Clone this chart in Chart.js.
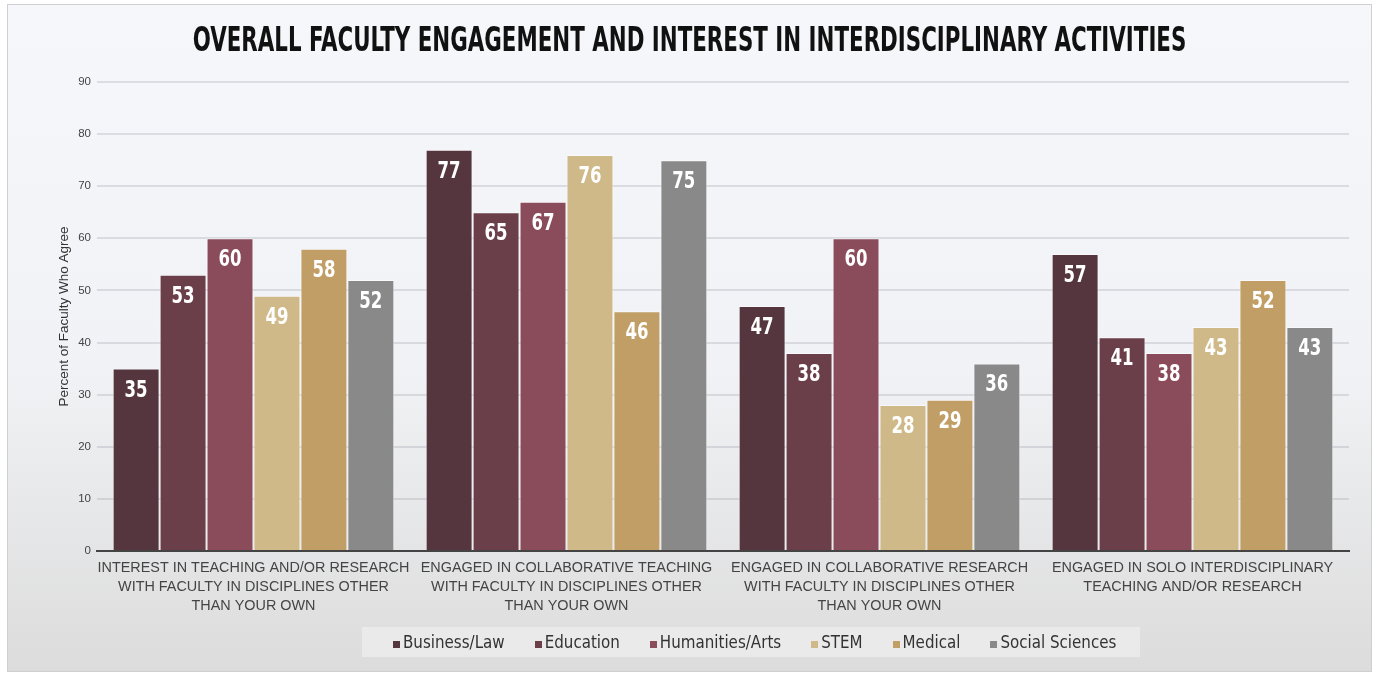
<!DOCTYPE html>
<html>
<head>
<meta charset="utf-8">
<script src="https://cdn.jsdelivr.net/npm/chart.js@4.4.1/dist/chart.umd.min.js"></script>
<style>
  body { margin: 0; background: #ffffff; }
  #frame {
    position: absolute; left: 7px; top: 4px; width: 1363px; height: 666px;
    border: 1px solid #cfcfcf;
    background: linear-gradient(#f6f7fb 0%, #f1f2f5 55%, #dcdcdc 100%);
  }
  #legend {
    position: absolute; left: 362px; top: 627px; height: 30px;
    padding: 0 24px 0 31px; display: flex; align-items: center; gap: 30px;
    background: rgba(236, 236, 236, 0.8);
    font-family: "DejaVu Sans Condensed", sans-serif; font-size: 16.8px; color: #333;
  }
  #legend i { display: inline-block; width: 7px; height: 7px; margin-right: 3px; vertical-align: 0px; }
</style>
</head>
<body>
<div id="frame"><canvas id="myChart"></canvas></div>
<div id="legend"></div>
<script>
/* datos del grafico */
const categories = [
  ["INTEREST IN TEACHING AND/OR RESEARCH", "WITH FACULTY IN DISCIPLINES OTHER", "THAN YOUR OWN"],
  ["ENGAGED IN COLLABORATIVE TEACHING", "WITH FACULTY IN DISCIPLINES OTHER", "THAN YOUR OWN"],
  ["ENGAGED IN COLLABORATIVE RESEARCH", "WITH FACULTY IN DISCIPLINES OTHER", "THAN YOUR OWN"],
  ["ENGAGED IN SOLO INTERDISCIPLINARY", "TEACHING AND/OR RESEARCH"],
];
const businessLaw = [35, 77, 47, 57];
const education = [53, 65, 38, 41];
const humanitiesArts = [60, 67, 60, 38];
const stem = [49, 76, 28, 43];
const medical = [58, 46, 29, 52];
const socialSciences = [52, 75, 36, 43];
const yTicks = [0, 10, 20, 30, 40, 50, 60, 70, 80, 90];

const titleText = "OVERALL FACULTY ENGAGEMENT AND INTEREST IN INTERDISCIPLINARY ACTIVITIES";
const narrow = '"DejaVu Sans Condensed", sans-serif';
const plain = '"Liberation Sans", Arial, sans-serif';

/* titulo y etiquetas (texto comprimido a lo ancho) */
const narrowText = {
  id: "narrowText",
  afterDraw(chart) {
    const c = chart.ctx;
    c.save();
    c.textAlign = "center";
    c.textBaseline = "middle";
    // titulo
    c.fillStyle = "#111111";
    c.font = "bold 33px " + narrow;
    c.save();
    c.translate(chart.width / 2, 37);
    c.scale(0.72, 1);
    c.fillText(titleText, 0, 0);
    c.restore();
    // valores dentro de las barras
    c.fillStyle = "#ffffff";
    c.font = "bold 23px " + narrow;
    chart.data.datasets.forEach((ds, i) => {
      chart.getDatasetMeta(i).data.forEach((bar, j) => {
        c.save();
        c.translate(bar.x, bar.y + 22);
        c.scale(0.8, 1);
        c.fillText(ds.data[j], 0, 0);
        c.restore();
      });
    });
    c.restore();
  },
};

const series = [
  { label: "Business/Law", data: businessLaw, backgroundColor: "#55363f" },
  { label: "Education", data: education, backgroundColor: "#6b3f4a" },
  { label: "Humanities/Arts", data: humanitiesArts, backgroundColor: "#8a4b5a" },
  { label: "STEM", data: stem, backgroundColor: "#cfb988" },
  { label: "Medical", data: medical, backgroundColor: "#c19e65" },
  { label: "Social Sciences", data: socialSciences, backgroundColor: "#898989" },
];

/* leyenda en html */
document.getElementById("legend").innerHTML = series
  .map(s => `<span><i style="background:${s.backgroundColor}"></i>${s.label}</span>`)
  .join("");

const ctx = document.getElementById("myChart").getContext("2d");
const myChart = new Chart(ctx, {
  type: "bar",
  data: {
    labels: categories,
    datasets: series.map(d => Object.assign(d, {
      borderColor: "rgba(255,255,255,0.5)",
      borderWidth: 1,
      categoryPercentage: 0.9,
      barPercentage: 1.0,
    })),
  },
  options: {
    responsive: true,
    maintainAspectRatio: false,
    animation: false,
    layout: { padding: { left: 48, right: 22, top: 77, bottom: 55 } },
    plugins: {
      legend: { display: false },
      tooltip: { enabled: false },
    },
    scales: {
      x: {
        grid: { display: false },
        border: { color: "#444444", width: 2 },
        ticks: {
          color: "#444444",
          padding: 0,
          font: { family: plain, size: 14.4, lineHeight: 1.32 },
          maxRotation: 0,
          autoSkip: false,
        },
      },
      y: {
        min: 0,
        max: 90,
        z: 1,
        afterBuildTicks: (axis) => { axis.ticks = yTicks.map(v => ({ value: v })); },
        grid: { color: "rgba(70, 70, 90, 0.14)", lineWidth: 2, drawTicks: false },
        border: { display: false },
        ticks: {
          color: "#444444",
          padding: 6,
          font: { family: plain, size: 11.5 },
        },
        title: {
          display: true,
          text: "Percent of Faculty Who Agree",
          color: "#333333",
          font: { family: plain, size: 13.5 },
          padding: 0,
        },
      },
    },
  },
  plugins: [narrowText],
});
</script>
</body>
</html>
